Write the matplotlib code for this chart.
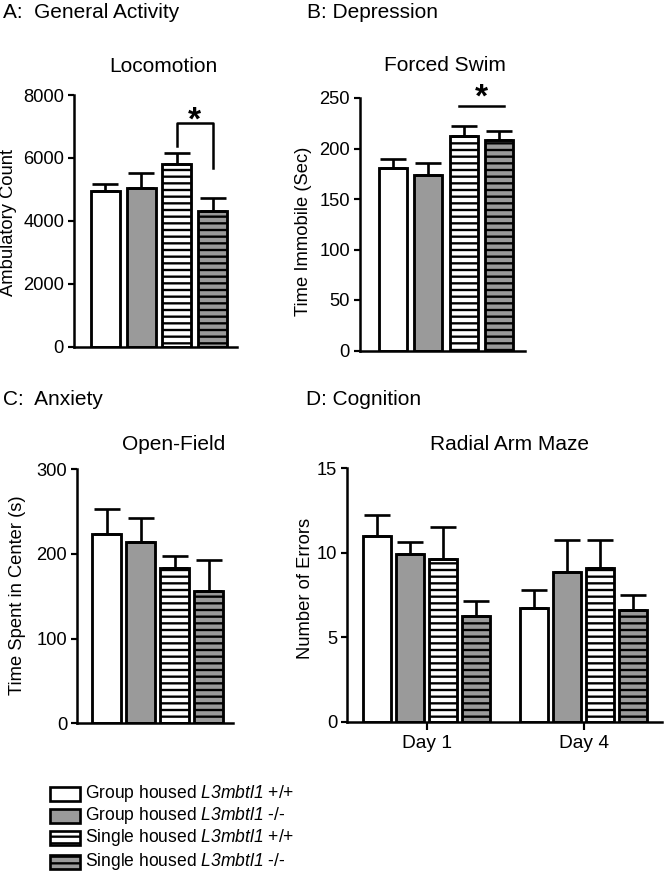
import matplotlib
matplotlib.use('Agg')
import numpy as np
from matplotlib import pyplot as plt
from matplotlib.patches import Rectangle

plt.rcParams['font.family'] = ['Liberation Sans', 'DejaVu Sans']
plt.rcParams['mathtext.fontset'] = 'custom'
# math is only used for the gene name, so make all of it italic (digits too)
plt.rcParams['mathtext.rm'] = 'Liberation Sans:italic'
plt.rcParams['mathtext.it'] = 'Liberation Sans:italic'
plt.rcParams['hatch.linewidth'] = 1.4

# groups (same order in every panel)
legend_labels = ['Group housed $L3mbtl1$ +/+',
                 'Group housed $L3mbtl1$ -/-',
                 'Single housed $L3mbtl1$ +/+',
                 'Single housed $L3mbtl1$ -/-']
face_colors = ['white', '#9a9a9a', 'white', '#9a9a9a']
hatches = ['', '', '---', '---']

# A: locomotion
loco_mean = [4950, 5050, 5795, 4310]
loco_sem = [220, 460, 350, 425]
# B: forced swim
swim_mean = [181, 174, 212, 208]
swim_sem = [9, 11.5, 10, 9]
# C: open field
open_mean = [224, 214, 183, 156]
open_sem = [29, 29, 15, 37]
# D: radial arm maze
days = ['Day 1', 'Day 4']
ram_mean = [[11.02, 9.92, 9.64, 6.29], [6.76, 8.89, 9.13, 6.62]]
ram_sem = [[1.22, 0.74, 1.91, 0.88], [1.05, 1.87, 1.63, 0.89]]

W, H = 666, 875
DPI = 120
fig = plt.figure(figsize=(W / DPI, H / DPI), dpi=DPI)


def px_axes(left, top, right, bottom):
    return fig.add_axes([left / W, 1 - bottom / H, (right - left) / W, (bottom - top) / H])


def style(ax, yticks):
    for s in ['top', 'right']:
        ax.spines[s].set_visible(False)
    for s in ['left', 'bottom']:
        ax.spines[s].set_linewidth(1.5)
    ax.set_yticks(yticks)
    ax.set_ylim(yticks[0], yticks[-1])
    ax.tick_params(axis='both', direction='out', length=3.5, width=1.3,
                   labelsize=11, pad=2.5)


def draw_bars(ax, x, mean, sem, width):
    for i in range(len(mean)):
        ax.bar(x[i], mean[i], width, color=face_colors[i], edgecolor='black',
               linewidth=1.7, hatch=hatches[i], zorder=2)
    ax.errorbar(x, mean, yerr=[np.zeros(len(mean)), sem], fmt='none',
                ecolor='black', elinewidth=1.6, capsize=8, capthick=1.6, zorder=3)


x4 = np.arange(4)

# panel A
axA = px_axes(74, 95, 237, 346.5)
draw_bars(axA, x4, loco_mean, loco_sem, 0.81)
axA.set_xlim(-0.869, 3.673)
style(axA, [0, 2000, 4000, 6000, 8000])
axA.set_xticks([])
axA.plot([2, 2, 3, 3], [6380, 7110, 7110, 5680], color='black', lw=1.5, clip_on=False)
axA.text(2.5, 6900, '*', ha='center', va='baseline', fontsize=20, fontweight='bold')

# panel B
axB = px_axes(360, 98, 525, 350.5)
draw_bars(axB, x4, swim_mean, swim_sem, 0.79)
axB.set_xlim(-0.93, 3.72)
style(axB, [0, 50, 100, 150, 200, 250])
axB.set_xticks([])
axB.plot([1.87, 3.13], [242, 242], color='black', lw=1.5, clip_on=False)
axB.text(2.5, 242, '*', ha='center', va='baseline', fontsize=20, fontweight='bold')

# panel C
axC = px_axes(77, 469.3, 233, 723.3)
draw_bars(axC, x4, open_mean, open_sem, 0.84)
axC.set_xlim(-0.868, 3.72)
style(axC, [0, 100, 200, 300])
axC.set_xticks([])

# panel D
axD = px_axes(347, 468.3, 662, 722)
step = 0.21
for d in range(len(days)):
    xd = d + (x4 - 1.5) * step
    draw_bars(axD, xd, ram_mean[d], ram_sem[d], 0.178)
axD.set_xlim(-0.508, 1.499)
style(axD, [0, 5, 10, 15])
axD.set_xticks([0, 1])
axD.set_xticklabels(days)
axD.tick_params(axis='x', length=5, labelsize=11.5, pad=3)

# titles and labels
def ftext(x, y, s, **kw):
    fig.text(x / W, 1 - y / H, s, **kw)

ftext(3, 18, 'A:  General Activity', fontsize=12.5, va='baseline')
ftext(307, 18, 'B: Depression', fontsize=12.5, va='baseline')
ftext(3, 405, 'C:  Anxiety', fontsize=12.5, va='baseline')
ftext(306, 405, 'D: Cognition', fontsize=12.5, va='baseline')

ftext(163, 72, 'Locomotion', fontsize=12.5, ha='center', va='baseline')
ftext(445, 71, 'Forced Swim', fontsize=12.5, ha='center', va='baseline')
ftext(174, 450, 'Open-Field', fontsize=12.5, ha='center', va='baseline')
ftext(509, 450, 'Radial Arm Maze', fontsize=12.5, ha='center', va='baseline')

ftext(9, 222, 'Ambulatory Count', fontsize=11, rotation=90, ha='center', va='center')
ftext(303, 231, 'Time Immobile (Sec)', fontsize=11, rotation=90, ha='center', va='center')
ftext(18, 595, 'Time Spent in Center (s)', fontsize=11, rotation=90, ha='center', va='center')
ftext(305, 588, 'Number of Errors', fontsize=11, rotation=90, ha='center', va='center')

# legend
row_y = [794, 816, 838, 862]
for i in range(4):
    fig.add_artist(Rectangle((50 / W, 1 - (row_y[i] + 7) / H), 30 / W, 14 / H,
                             transform=fig.transFigure, facecolor=face_colors[i],
                             edgecolor='black', linewidth=1.6, hatch=hatches[i]))
    ftext(85, row_y[i], legend_labels[i], fontsize=10.5, va='center')

fig.savefig('out.png', dpi=DPI)
